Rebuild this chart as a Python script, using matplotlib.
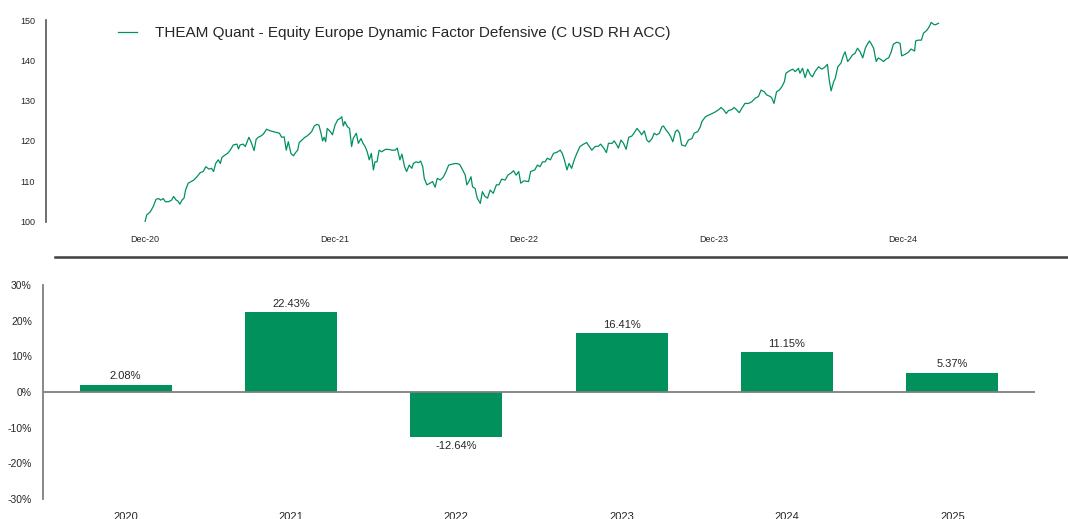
import numpy as np
import pandas as pd
import matplotlib
matplotlib.use('Agg')
import matplotlib.pyplot as plt
import matplotlib.dates as mdates
from matplotlib.lines import Line2D

GREEN = '#00915d'
TEXT = '#262626'
AXIS_GREY = '#7f7f7f'

plt.rcParams['font.family'] = ['Liberation Sans', 'DejaVu Sans']

# ---- NAV series ----
start_date = '2020-12-31'
series_name = 'THEAM Quant - Equity Europe Dynamic Factor Defensive (C USD RH ACC)'
day_offsets = [
    0, 3, 10, 16, 21, 26, 30, 35, 39, 45, 51, 55, 60, 63, 67, 71, 75, 78, 83, 90,
    94, 100, 106, 112, 117, 123, 128, 132, 136, 141, 145, 148, 154, 159, 164, 170, 177, 180, 183, 189,
    193, 196, 200, 204, 210, 214, 218, 223, 228, 234, 241, 247, 253, 259, 263, 268, 272, 276, 281, 286,
    290, 294, 297, 302, 308, 313, 318, 321, 326, 331, 335, 339, 342, 345, 348, 351, 357, 361, 366, 371,
    376, 379, 382, 385, 390, 394, 398, 401, 407, 411, 416, 420, 424, 428, 432, 436, 440, 443, 447, 451,
    456, 463, 469, 476, 482, 486, 491, 495, 500, 504, 509, 514, 517, 522, 527, 531, 535, 538, 543, 549,
    554, 559, 563, 569, 575, 580, 585, 591, 598, 604, 607, 612, 617, 620, 624, 628, 631, 636, 640, 646,
    650, 655, 660, 665, 671, 677, 682, 687, 694, 699, 705, 710, 715, 720, 724, 730, 739, 743, 751, 756,
    761, 766, 771, 775, 781, 787, 794, 800, 804, 808, 813, 817, 822, 827, 832, 838, 845, 851, 856, 861,
    867, 874, 878, 884, 889, 893, 900, 904, 909, 912, 917, 922, 927, 932, 938, 942, 948, 953, 957, 962,
    967, 971, 977, 981, 986, 991, 996, 999, 1004, 1009, 1013, 1017, 1022, 1026, 1030, 1034, 1041, 1047, 1054, 1058,
    1065, 1070, 1073, 1080, 1086, 1093, 1099, 1105, 1110, 1115, 1120, 1124, 1131, 1135, 1140, 1145, 1150, 1156, 1163, 1169,
    1176, 1182, 1187, 1193, 1198, 1205, 1208, 1212, 1217, 1222, 1227, 1232, 1235, 1242, 1248, 1253, 1259, 1262, 1267, 1272,
    1277, 1282, 1286, 1291, 1298, 1304, 1309, 1315, 1318, 1322, 1327, 1330, 1335, 1341, 1346, 1349, 1354, 1359, 1363, 1368,
    1373, 1378, 1383, 1388, 1391, 1396, 1399, 1404, 1409, 1413, 1419, 1423, 1428, 1433, 1438, 1442, 1449, 1455, 1458, 1465,
    1471, 1476, 1483, 1485, 1490, 1496, 1500, 1507, 1511, 1515, 1520, 1523, 1529,
]
nav_values = [
    100.0, 101.6, 102.4, 103.8, 105.5, 105.7, 105.3, 105.7, 104.9, 104.9, 105.3, 106.2, 105.3, 105.1, 104.3, 105.3, 105.8, 107.8, 109.5, 110.0,
    110.3, 111.1, 112.1, 112.4, 113.6, 113.0, 113.2, 112.4, 114.4, 115.3, 114.4, 115.9, 116.5, 116.9, 117.7, 119.0, 119.2, 118.0, 119.0, 119.2,
    118.6, 119.6, 120.9, 119.8, 117.6, 120.4, 120.9, 121.2, 121.7, 122.9, 122.5, 122.3, 122.1, 121.9, 120.9, 121.0, 117.7, 119.8, 116.9, 116.3,
    117.1, 117.7, 119.6, 120.2, 120.9, 121.3, 121.9, 122.3, 123.7, 124.1, 123.9, 121.9, 120.0, 120.9, 119.8, 123.1, 122.3, 121.5, 123.9, 125.2,
    125.6, 126.0, 123.7, 124.8, 123.5, 123.1, 118.6, 120.6, 121.9, 119.4, 120.6, 119.4, 118.6, 117.3, 115.3, 116.9, 112.8, 114.8, 114.8, 117.7,
    117.3, 117.9, 117.9, 117.7, 117.7, 118.2, 115.3, 116.7, 113.6, 112.4, 114.0, 113.2, 114.4, 114.8, 114.6, 115.0, 113.6, 110.7, 109.1, 109.5,
    109.9, 108.5, 110.7, 110.3, 111.1, 112.4, 114.0, 114.2, 114.4, 114.3, 114.0, 112.8, 111.5, 109.1, 109.9, 111.1, 108.6, 108.2, 105.8, 104.5,
    107.4, 106.2, 105.8, 107.8, 107.0, 109.1, 109.1, 110.5, 110.3, 111.5, 112.0, 112.6, 111.5, 112.4, 109.5, 110.1, 109.9, 112.4, 112.8, 114.0,
    113.6, 114.8, 114.8, 115.7, 115.3, 116.9, 117.2, 117.7, 116.9, 115.3, 112.8, 114.4, 113.2, 115.3, 116.9, 118.6, 119.2, 119.6, 118.6, 117.7,
    118.6, 118.7, 119.2, 118.2, 117.1, 119.4, 119.4, 120.0, 119.0, 118.2, 120.2, 119.4, 117.9, 120.9, 121.2, 121.9, 123.1, 122.3, 121.5, 122.5,
    120.2, 119.7, 120.6, 121.9, 121.5, 121.9, 123.5, 123.7, 122.7, 121.9, 121.0, 119.8, 122.3, 122.7, 121.9, 119.0, 118.7, 120.2, 120.6, 121.9,
    122.3, 123.5, 124.8, 126.0, 126.4, 126.8, 127.2, 127.7, 128.3, 127.7, 126.8, 127.5, 127.8, 128.3, 127.7, 127.0, 128.1, 129.3, 129.3, 129.7,
    130.6, 131.0, 132.6, 132.2, 131.4, 131.0, 130.6, 129.3, 132.2, 132.6, 133.4, 134.7, 136.8, 137.4, 137.8, 137.2, 138.0, 136.8, 138.0, 135.7,
    137.8, 136.4, 135.9, 137.2, 138.4, 137.8, 138.2, 139.0, 135.5, 132.4, 134.7, 135.5, 138.4, 139.3, 141.3, 142.1, 139.7, 140.5, 141.3, 141.7,
    143.0, 142.1, 140.6, 143.0, 143.8, 144.8, 144.2, 143.0, 139.7, 140.6, 140.1, 139.7, 140.3, 140.6, 142.1, 144.0, 144.5, 144.2, 141.1, 141.5,
    142.0, 142.8, 142.3, 144.8, 145.0, 145.0, 146.7, 147.5, 148.3, 149.4, 148.9, 148.8, 149.2,
]
date_ticks = ['2020-12-31', '2021-12-31', '2022-12-31', '2023-12-31', '2024-12-31']

# ---- calendar year returns ----
years = ['2020', '2021', '2022', '2023', '2024', '2025']
annual_returns = [2.08, 22.43, -12.64, 16.41, 11.15, 5.37]

W, H = 1068, 519
fig = plt.figure(figsize=(W / 100, H / 100), dpi=100)

# ---------------- top: performance line ----------------
ax1 = fig.add_axes([46 / W, 1 - 221.5 / H, 989 / W, 201.5 / H])
dates = pd.Timestamp(start_date) + pd.to_timedelta(day_offsets, unit='D')
ax1.plot(dates, nav_values, color=GREEN, lw=0.9, label=series_name)

t0 = pd.Timestamp(start_date)
ax1.set_xlim(t0 - pd.Timedelta(days=191), t0 + pd.Timedelta(days=1715))
ax1.set_ylim(100, 150)
ax1.set_yticks(np.arange(100, 151, 10))
ax1.set_xticks(pd.to_datetime(date_ticks))
ax1.xaxis.set_major_formatter(mdates.DateFormatter('%b-%y'))
ax1.tick_params(axis='both', length=0, labelsize=6.5, labelcolor=TEXT)
ax1.tick_params(axis='x', pad=10)
ax1.tick_params(axis='y', pad=8)
for s in ['top', 'right', 'bottom']:
    ax1.spines[s].set_visible(False)
ax1.spines['left'].set_color('#555555')
ax1.spines['left'].set_linewidth(1.2)

fig.legend(loc='center left', bbox_to_anchor=(118 / W, 1 - 33 / H),
           bbox_transform=fig.transFigure, frameon=False, fontsize=11,
           handlelength=1.25, handletextpad=1.15, borderpad=0, borderaxespad=0,
           labelcolor=TEXT)

# separator line between the two panels
fig.add_artist(Line2D([55 / W, 1.0], [1 - 257 / H, 1 - 257 / H],
                      transform=fig.transFigure, color='#404040', lw=1.8))

# ---------------- bottom: annual returns ----------------
ax2 = fig.add_axes([43 / W, 1 - 499 / H, 992 / W, 214 / H])
x = np.arange(len(years))
bars = ax2.bar(x, annual_returns, width=0.556, color=GREEN, zorder=2)
ax2.axhline(0, color=AXIS_GREY, lw=1.3, zorder=3)
ax2.set_xlim(-0.5, len(years) - 0.5)
ax2.set_ylim(-30, 30)
ax2.set_yticks(np.arange(-30, 31, 10))
ax2.set_yticklabels(['{}%'.format(v) for v in range(-30, 31, 10)])
ax2.set_xticks(x)
ax2.set_xticklabels(years)
ax2.tick_params(axis='both', length=0, labelcolor=TEXT)
ax2.tick_params(axis='y', labelsize=7.5, pad=8)
ax2.tick_params(axis='x', labelsize=8, pad=9.5)
for s in ['top', 'right', 'bottom']:
    ax2.spines[s].set_visible(False)
ax2.spines['left'].set_color(AXIS_GREY)
ax2.spines['left'].set_linewidth(1.3)

for rect, val in zip(bars, annual_returns):
    cx = rect.get_x() + rect.get_width() / 2
    if val >= 0:
        ax2.annotate('{:.2f}%'.format(val), (cx, val), xytext=(0, 2.5),
                     textcoords='offset points', ha='center', va='bottom',
                     fontsize=8, color=TEXT)
    else:
        ax2.annotate('{:.2f}%'.format(val), (cx, val), xytext=(0, -2.5),
                     textcoords='offset points', ha='center', va='top',
                     fontsize=8, color=TEXT)

fig.savefig('out.png', dpi=100)
